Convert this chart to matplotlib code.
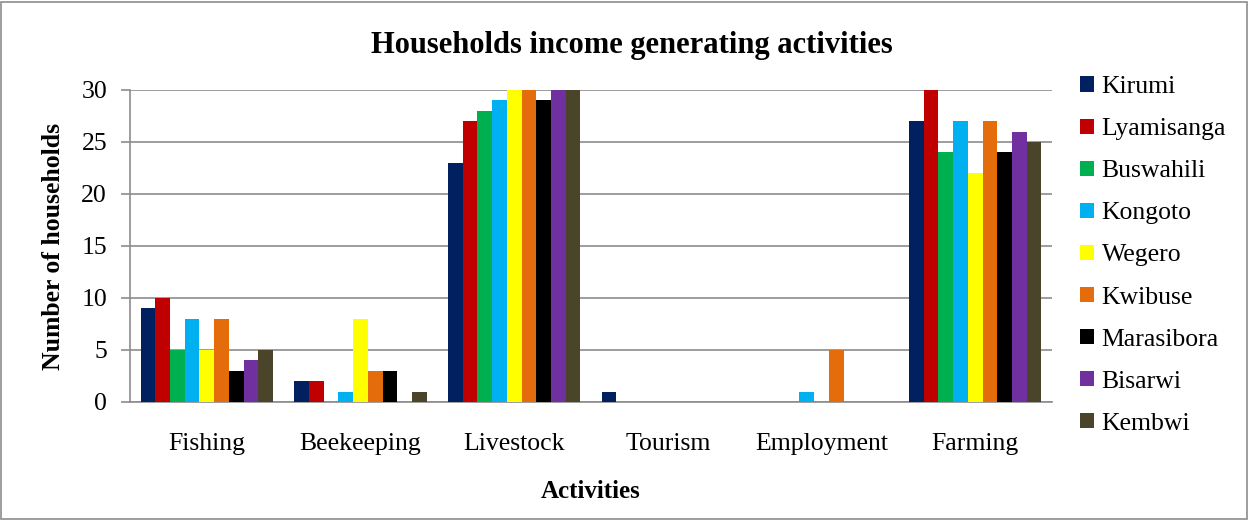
import matplotlib
matplotlib.use("Agg")
import matplotlib.pyplot as plt
from matplotlib.patches import Rectangle
import numpy as np

plt.rcParams['font.family'] = ['Liberation Serif', 'DejaVu Serif']

activities = ["Fishing", "Beekeeping", "Livestock", "Tourism", "Employment", "Farming"]
villages = ["Kirumi", "Lyamisanga", "Buswahili", "Kongoto", "Wegero",
            "Kwibuse", "Marasibora", "Bisarwi", "Kembwi"]
colors = ["#002060", "#c00000", "#00b050", "#00b0f0", "#ffff00",
          "#e46c0a", "#000000", "#7030a0", "#4a452a"]

# households per village, one list per activity order above
kirumi = [9, 2, 23, 1, 0, 27]
lyamisanga = [10, 2, 27, 0, 0, 30]
buswahili = [5, 0, 28, 0, 0, 24]
kongoto = [8, 1, 29, 0, 1, 27]
wegero = [5, 8, 30, 0, 0, 22]
kwibuse = [8, 3, 30, 0, 5, 27]
marasibora = [3, 3, 29, 0, 0, 24]
bisarwi = [4, 0, 30, 0, 0, 26]
kembwi = [5, 1, 30, 0, 0, 25]
series = [kirumi, lyamisanga, buswahili, kongoto, wegero,
          kwibuse, marasibora, bisarwi, kembwi]

fig = plt.figure(figsize=(12.49, 5.2), dpi=100)
ax = fig.add_axes([130 / 1249, 118 / 520, 922 / 1249, 312 / 520])

x = np.arange(len(activities))
w = 0.0955
for i, (name, vals, c) in enumerate(zip(villages, series, colors)):
    offs = (i - 4) * w
    ax.bar(x + offs, vals, width=w, color=c, label=name, zorder=3)

ax.set_xlim(-0.5, len(activities) - 0.5)
ax.set_ylim(0, 30)
ax.set_yticks(range(0, 31, 5))
ax.set_xticks(x)
ax.set_xticklabels(activities)
ax.yaxis.grid(True, color="#8c8c8c", linewidth=1.2, zorder=0)
for s in ["top", "right"]:
    ax.spines[s].set_visible(False)
ax.spines["left"].set_color("#8c8c8c")
ax.spines["bottom"].set_color("#8c8c8c")
ax.spines["left"].set_linewidth(1.2)
ax.spines["bottom"].set_linewidth(1.2)
ax.tick_params(axis="y", length=6.5, width=1.2, color="#8c8c8c", labelsize=18.5, pad=10)
ax.tick_params(axis="x", length=0, labelsize=18.5, pad=22)

ax.set_ylabel("Number of households", fontsize=18.5, fontweight="bold", labelpad=12)
ax.set_xlabel("Activities", fontsize=18, fontweight="bold", labelpad=18)
fig.text(632 / 1249, 1 - 45 / 520, "Households income generating activities",
         fontsize=22, fontweight="bold", ha="center", va="center")

leg = ax.legend(loc="upper left", bbox_to_anchor=(1.005, 1.118), frameon=False,
                fontsize=18.5, handlelength=0.55, handleheight=0.55,
                handletextpad=0.3, labelspacing=0.78)

# outer frame around the chart
fig.patches.append(Rectangle((0.001, 0.002), 0.997, 0.995, transform=fig.transFigure,
                             fill=False, edgecolor="#8c8c8c", linewidth=1.2))

fig.savefig("out.png", dpi=100, facecolor="white")
